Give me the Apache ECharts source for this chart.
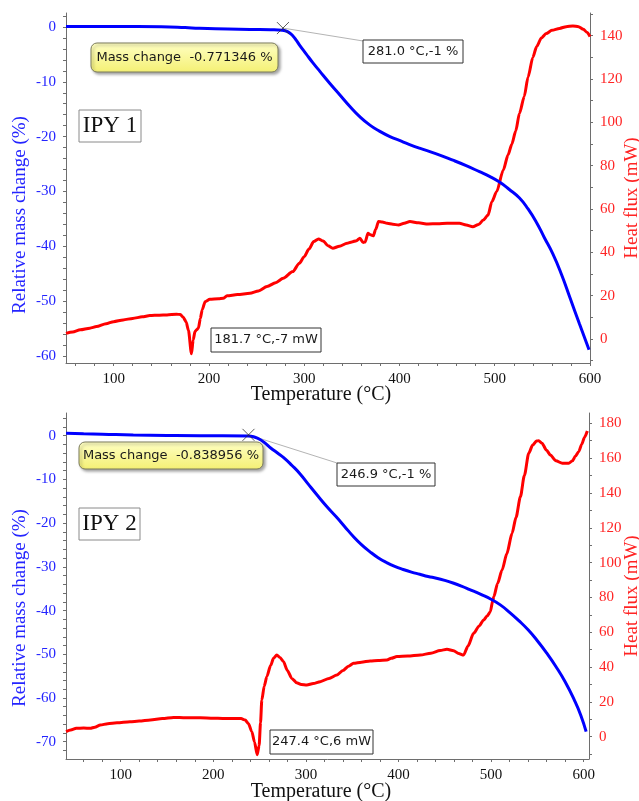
<!DOCTYPE html>
<html>
<head>
<meta charset="utf-8">
<script src="https://cdn.jsdelivr.net/npm/echarts@6/dist/echarts.min.js"></script>
<style>html,body{margin:0;padding:0;background:#fff}#c{width:639px;height:801px}</style>
</head>
<body>
<div id="c"></div>
<script>
// ---------- DATA ----------
// IPY 1 : TG (Temperature °C, relative mass change %)
const tg1 = [[50,0.1],[100,0.1],[150,0.05],[175,-0.1],[190,-0.25],[220,-0.35],[243,-0.45],[265,-0.5],[277,-0.6],[283,-0.9],[288,-1.6],[292,-2.5],[295.5,-3.4],[302,-4.9],[309,-6.5],[316.5,-8.1],[327,-10.3],[337.5,-12.4],[348,-14.5],[358,-16.3],[369,-17.9],[379,-19.0],[390,-20.0],[400,-20.7],[410,-21.4],[421,-22.1],[438,-23.1],[456,-24.3],[470,-25.3],[484,-26.4],[495,-27.3],[505,-28.3],[515,-29.6],[526,-31.2],[535,-33.2],[544,-35.7],[552,-38.4],[561,-41.4],[570,-45.1],[579,-49.4],[589,-54.2],[599,-58.9]];
// IPY 1 : DSC (Temperature °C, heat flux mW)
const dsc1 = [[50,2.6],[57,3.2],[65,4.2],[75,5.0],[82,5.7],[92,7.0],[100,8.0],[110,8.8],[120,9.5],[130,10.2],[138,10.8],[148,11.0],[156,11.1],[166,11.4],[170,11.3],[173,10.0],[176,8.0],[178.5,4.0],[181.7,-6.8],[183.5,-0.5],[185.4,3.4],[187,4.2],[189,5.0],[191,9.5],[193,13.5],[196,17.2],[201,18.3],[210,18.6],[215,18.8],[219,19.9],[230,20.5],[243,21.1],[252,22.2],[261,24.2],[270,26.0],[278,28.0],[288,31.1],[295,35.0],[300,38.0],[305,41.5],[310,45.0],[315,46.2],[320,45.2],[325,43.0],[330,41.9],[337,42.8],[345,44.2],[350,44.8],[355,45.4],[358.5,46.5],[362,44.5],[364,44.8],[367,48.8],[369,48.2],[372.5,47.6],[375,50.5],[378,54.2],[382,54.0],[387,53.4],[393,53.0],[399,52.6],[405,53.4],[411,54.2],[420,53.6],[430,53.1],[440,53.2],[450,53.4],[463,53.4],[470,52.6],[477,51.8],[483,52.8],[488,54.9],[493,57.2],[497,63.4],[502,68],[509,78],[514,85],[518,90],[522,96],[526,104.2],[531,112],[535,121],[540,130],[544,135],[549,139],[554,141],[560,142.5],[568,143.4],[575,144.2],[582,144.5],[588,144.2],[593,143],[597,141.5],[600,139.6]];
// IPY 2 : TG
const tg2 = [[41,0.55],[60,0.45],[80,0.35],[113.6,0.16],[150,0.05],[185.7,0],[210,0],[238,-0.07],[245,-0.35],[250,-0.8],[256,-1.7],[262,-2.8],[269,-3.9],[276,-5.0],[285,-6.8],[294,-8.8],[303,-11.2],[313,-13.8],[323,-16.3],[333,-18.6],[342,-20.8],[351,-23.0],[360,-24.9],[369,-26.5],[378,-27.9],[387,-29.0],[396,-29.9],[405,-30.6],[414,-31.2],[423,-31.7],[432,-32.2],[441,-32.6],[450,-33.1],[459,-33.7],[468,-34.4],[477,-35.2],[489,-36.3],[500,-37.4],[510,-38.7],[520,-40.4],[530,-42.3],[540,-44.4],[550,-46.9],[560,-49.7],[570,-52.8],[580,-56.3],[590,-60.5],[597,-64],[602.7,-67.7]];
// IPY 2 : DSC
const dsc2 = [[41,2.9],[46,3.8],[52,4.8],[60,5.0],[67,4.8],[72,5.5],[78,6.7],[86,7.5],[96,8.0],[110,8.6],[120,9.0],[132,9.6],[145,10.4],[157,11.1],[170,10.9],[186,10.9],[200,10.6],[210,10.5],[222,10.5],[230,10.4],[234.4,9.6],[238,7.5],[241.6,2.9],[244.5,-3],[247.4,-10.3],[249.5,-5],[251,8],[252.4,21],[255,29],[257.8,34.5],[262,41],[265,45],[268.6,46.9],[272,45.5],[275.8,43.1],[280,38],[284.8,33.5],[290,31],[295,30],[301,29.7],[308,30.5],[315.5,31.6],[325,33.5],[333.5,35.4],[340,38],[346,40.5],[351.5,42.2],[360,42.8],[369.5,43.5],[378,43.8],[387.6,44.1],[392,45],[398.4,46],[410,46.3],[423.6,46.9],[435,48],[445,49.5],[452.4,50.2],[459.6,49.4],[465,47.8],[470.4,46.9],[475,52],[481.2,59.4],[487,63.5],[492,67],[496,69.5],[499.2,71.8],[502,78.5],[503,80.4],[507,88],[511.9,95.7],[517,105],[522.7,116.8],[527,126],[531.7,137.8],[536,150],[540.7,162.8],[545,167.5],[549,169.8],[551.5,170],[555,168.5],[560,164.5],[564,161.8],[570,158.5],[577,157],[583.9,157],[588,158.5],[591,161],[594.7,163.7],[598,168],[601,172],[604,175.5]];

// onset markers and leader lines (data coordinates)
const onset1 = [[277.7,-0.2]];
const leader1 = [[277.7,-0.2],[361.6,-2.55]];
const onset2 = [[238,0.2]];
const leader2 = [[238,0.2],[333.8,-6.25]];

// tick labels
const xLabels = [100,200,300,400,500,600];
const massLabels1 = [-60,-50,-40,-30,-20,-10,0];
const fluxLabels1 = [0,20,40,60,80,100,120,140];
const massLabels2 = [-70,-60,-50,-40,-30,-20,-10,0];
const fluxLabels2 = [0,20,40,60,80,100,120,140,160,180];

// annotation texts
const sampleNames = ['IPY 1','IPY 2'];
const massChangeTexts = ['Mass change  -0.771346 %','Mass change  -0.838956 %'];
const onsetTexts = ['281.0 °C,-1 %','246.9 °C,-1 %'];
const peakTexts = ['181.7 °C,-7 mW','247.4 °C,6 mW'];

// ---------- CHART ----------
const SERIF = 'Liberation Serif';
const SANS = 'DejaVu Sans';
const AXC = '#6e6e6e';
const BLUE = '#0000ff', RED = '#ff0000';
const LBLUE = '#2424ff', LRED = '#ff2424';

function range(a, b, s) { const r = []; for (let v = a; v <= b + 1e-9; v += s) r.push(+v.toFixed(6)); return r; }

function xAx(gi, min, max) {
  return {
    type: 'value', gridIndex: gi, min, max, position: 'bottom',
    splitLine: { show: false },
    axisLine: { show: true, onZero: false, lineStyle: { color: AXC } },
    axisTick: { show: true, length: 3, customValues: range(60, 600, 20), lineStyle: { color: AXC } },
    axisLabel: { customValues: xLabels, color: '#111', fontFamily: SERIF, fontSize: 15, margin: 9 }
  };
}
function yAx(gi, pos, min, max, labels, ticks, color) {
  return {
    type: 'value', gridIndex: gi, position: pos, min, max,
    splitLine: { show: false },
    axisLine: { show: true, onZero: false, lineStyle: { color: AXC } },
    axisTick: { show: true, length: 3, customValues: ticks, lineStyle: { color: AXC } },
    axisLabel: { customValues: labels, color, fontFamily: SERIF, fontSize: 15, margin: 10 }
  };
}

const crossSymbol = 'path://M0,0L10,10M10,0L0,10';

function seriesFor(gi, tg, dsc, onset, leader) {
  return [
    { type: 'line', xAxisIndex: gi, yAxisIndex: gi * 2 + 1, data: dsc, showSymbol: false, symbol: 'none',
      smooth: 0.25, smoothMonotone: 'x', lineStyle: { color: RED, width: 3 }, z: 2 },
    { type: 'line', xAxisIndex: gi, yAxisIndex: gi * 2, data: leader, symbol: 'none',
      lineStyle: { color: '#b4b4b4', width: 1 }, z: 1 },
    { type: 'line', xAxisIndex: gi, yAxisIndex: gi * 2, data: tg, showSymbol: false, symbol: 'none',
      smooth: 0.5, lineStyle: { color: BLUE, width: 3 }, z: 3 },
    { type: 'scatter', xAxisIndex: gi, yAxisIndex: gi * 2, data: onset, symbol: crossSymbol, symbolSize: 12,
      itemStyle: { color: 'none', borderColor: '#333', borderWidth: 1 }, z: 4 }
  ];
}

function box(x, y, w, h, text, o) {
  o = o || {};
  return [{
    type: 'rect', z: 100,
    shape: { x, y, width: w, height: h, r: o.r || 0 },
    style: {
      fill: o.fill || '#fff', stroke: o.stroke || '#333', lineWidth: 1,
      shadowBlur: o.shadow ? 3 : 0, shadowColor: 'rgba(0,0,0,0.35)', shadowOffsetX: o.shadow ? 2 : 0, shadowOffsetY: o.shadow ? 2 : 0
    }
  }, {
    type: 'text', z: 101, x: x + w / 2, y: y + h / 2,
    style: { text, fill: o.color || '#1a1a1a', font: o.font || ('13px "' + SANS + '"'), align: 'center', verticalAlign: 'middle' }
  }];
}
function vtitle(x, y, text, color) {
  return { type: 'text', z: 100, x, y, rotation: Math.PI / 2,
    style: { text, fill: color, font: '19px "' + SERIF + '"', align: 'center', verticalAlign: 'middle' } };
}
function htitle(x, y, text) {
  return { type: 'text', z: 100, x, y,
    style: { text, fill: '#111', font: '20px "' + SERIF + '"', align: 'center', verticalAlign: 'middle' } };
}

const yellow = { type: 'linear', x: 0, y: 0, x2: 0, y2: 1,
  colorStops: [{ offset: 0, color: '#ffffc4' }, { offset: 1, color: '#f4f074' }] };

const graphics = [].concat(
  vtitle(20, 215, 'Relative mass change (%)', LBLUE),
  vtitle(632, 198, 'Heat flux (mW)', LRED),
  htitle(321, 395, 'Temperature (°C)'),
  vtitle(20, 608, 'Relative mass change (%)', LBLUE),
  vtitle(632, 596, 'Heat flux (mW)', LRED),
  htitle(321, 792, 'Temperature (°C)'),
  box(91, 43, 187, 29, massChangeTexts[0], { r: 6, fill: yellow, stroke: '#7c7c5c', shadow: true }),
  box(363, 40, 100, 23, onsetTexts[0], {}),
  box(79, 110, 62, 32, sampleNames[0], { stroke: '#8a8a8a', font: '23px "' + SERIF + '"', color: '#111' }),
  box(211, 328, 110, 24, peakTexts[0], {}),
  box(79, 442, 184, 27, massChangeTexts[1], { r: 6, fill: yellow, stroke: '#7c7c5c', shadow: true }),
  box(337, 463, 98, 23, onsetTexts[1], {}),
  box(79, 508, 61, 32, sampleNames[1], { stroke: '#8a8a8a', font: '23px "' + SERIF + '"', color: '#111' }),
  box(270, 730, 103, 24, peakTexts[1], {})
);

const chart = echarts.init(document.getElementById('c'), null, { renderer: 'canvas' });
chart.setOption({
  animation: false,
  backgroundColor: '#fff',
  grid: [
    { left: 66, top: 13, width: 524, height: 350, containLabel: false },
    { left: 66, top: 413, width: 523, height: 346, containLabel: false }
  ],
  xAxis: [xAx(0, 50, 600), xAx(1, 40.9, 605.8)],
  yAxis: [
    yAx(0, 'left', -61.3, 2.55, massLabels1, range(-60, 2, 2), LBLUE),
    yAx(0, 'right', -11.1, 150.5, fluxLabels1, range(-10, 150, 10), LRED),
    yAx(1, 'left', -73.96, 5.2, massLabels2, range(-72, 4, 2), LBLUE),
    yAx(1, 'right', -12.8, 185.9, fluxLabels2, range(-10, 180, 10), LRED)
  ],
  series: [].concat(
    seriesFor(0, tg1, dsc1, onset1, leader1),
    seriesFor(1, tg2, dsc2, onset2, leader2)
  ),
  graphic: graphics
});
</script>
</body>
</html>
